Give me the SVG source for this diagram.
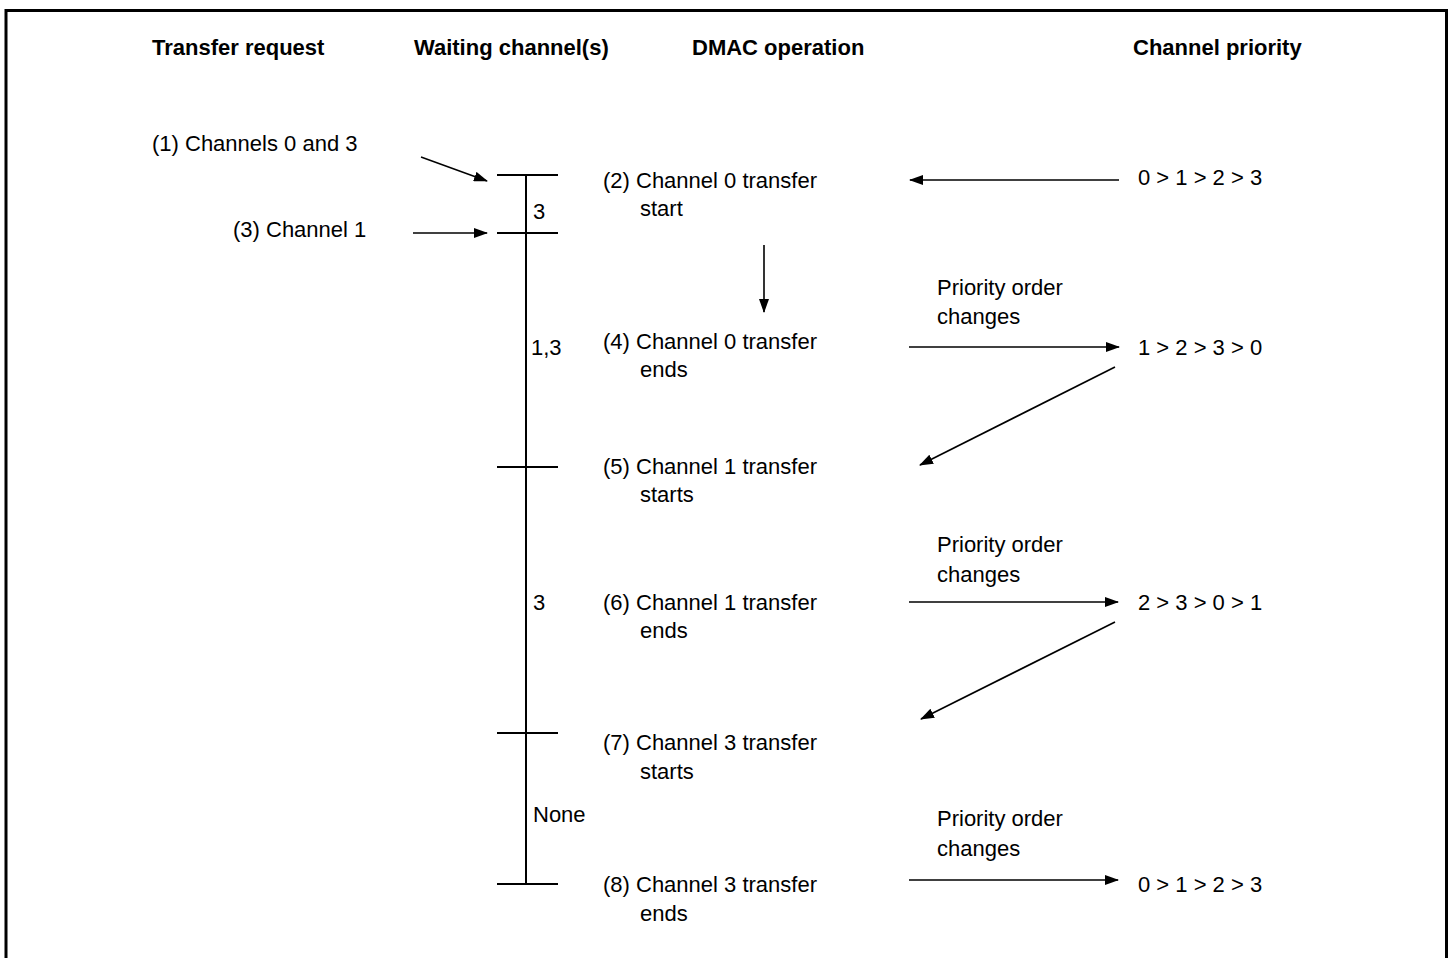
<svg xmlns="http://www.w3.org/2000/svg" width="1455" height="958" viewBox="0 0 1455 958">
<defs>
<style>
text{font-family:"Liberation Sans",Arial,Helvetica,sans-serif;font-size:22px;fill:#000}
.h{font-weight:bold;font-size:22px}
.ln{stroke:#000;stroke-width:1.6;fill:none}
.tl{stroke:#000;stroke-width:2;fill:none}
.ar{stroke:#000;stroke-width:1.6;fill:none;marker-end:url(#ah)}
</style>
<marker id="ah" markerUnits="userSpaceOnUse" markerWidth="14" markerHeight="10" refX="13" refY="5" orient="auto">
<path d="M0,0 L14,5 L0,10 Z" fill="#000"/>
</marker>
</defs>
<rect width="1455" height="958" fill="#fff"/>
<path d="M6,960 V10.5 H1446.5 V960" fill="none" stroke="#000" stroke-width="3"/>

<g id="headers">
<text class="h" x="152" y="55">Transfer request</text>
<text class="h" x="414" y="55">Waiting channel(s)</text>
<text class="h" x="692" y="55">DMAC operation</text>
<text class="h" x="1133" y="55">Channel priority</text>
</g>

<g id="timeline">
<line class="tl" x1="526" y1="175" x2="526" y2="884"/>
<line class="tl" x1="497" y1="175" x2="558" y2="175"/>
<line class="tl" x1="497" y1="233" x2="558" y2="233"/>
<line class="tl" x1="497" y1="467" x2="558" y2="467"/>
<line class="tl" x1="497" y1="733" x2="558" y2="733"/>
<line class="tl" x1="497" y1="884" x2="558" y2="884"/>
<text x="533" y="219">3</text>
<text x="531" y="355">1,3</text>
<text x="533" y="610">3</text>
<text x="533" y="822">None</text>
</g>

<g id="req1"><text x="152" y="151">(1) Channels 0 and 3</text></g>
<g id="req3"><text x="233" y="237">(3) Channel 1</text></g>

<g id="op2"><text x="603" y="188">(2) Channel 0 transfer</text><text x="640" y="216">start</text></g>
<g id="op4"><text x="603" y="349">(4) Channel 0 transfer</text><text x="640" y="377">ends</text></g>
<g id="op5"><text x="603" y="474">(5) Channel 1 transfer</text><text x="640" y="502">starts</text></g>
<g id="op6"><text x="603" y="610">(6) Channel 1 transfer</text><text x="640" y="638">ends</text></g>
<g id="op7"><text x="603" y="750">(7) Channel 3 transfer</text><text x="640" y="779">starts</text></g>
<g id="op8"><text x="603" y="892">(8) Channel 3 transfer</text><text x="640" y="921">ends</text></g>

<g id="prio1"><text x="1138" y="185">0 &gt; 1 &gt; 2 &gt; 3</text></g>
<g id="prio2"><text x="1138" y="355">1 &gt; 2 &gt; 3 &gt; 0</text></g>
<g id="prio3"><text x="1138" y="610">2 &gt; 3 &gt; 0 &gt; 1</text></g>
<g id="prio4"><text x="1138" y="892">0 &gt; 1 &gt; 2 &gt; 3</text></g>

<g id="lbl1"><text x="937" y="295">Priority order</text><text x="937" y="324">changes</text></g>
<g id="lbl2"><text x="937" y="552">Priority order</text><text x="937" y="582">changes</text></g>
<g id="lbl3"><text x="937" y="826">Priority order</text><text x="937" y="856">changes</text></g>

<g id="connectors">
<line class="ar" x1="421" y1="157" x2="487" y2="181"/>
<line class="ar" x1="413" y1="233" x2="487" y2="233"/>
<line class="ar" x1="1119" y1="180" x2="910" y2="180"/>
<line class="ar" x1="764" y1="245" x2="764" y2="312"/>
<line class="ar" x1="909" y1="347" x2="1119" y2="347"/>
<line class="ar" x1="1115" y1="367" x2="920" y2="465"/>
<line class="ar" x1="909" y1="602" x2="1118" y2="602"/>
<line class="ar" x1="1115" y1="622" x2="921" y2="719"/>
<line class="ar" x1="909" y1="880" x2="1118" y2="880"/>
</g>
</svg>
